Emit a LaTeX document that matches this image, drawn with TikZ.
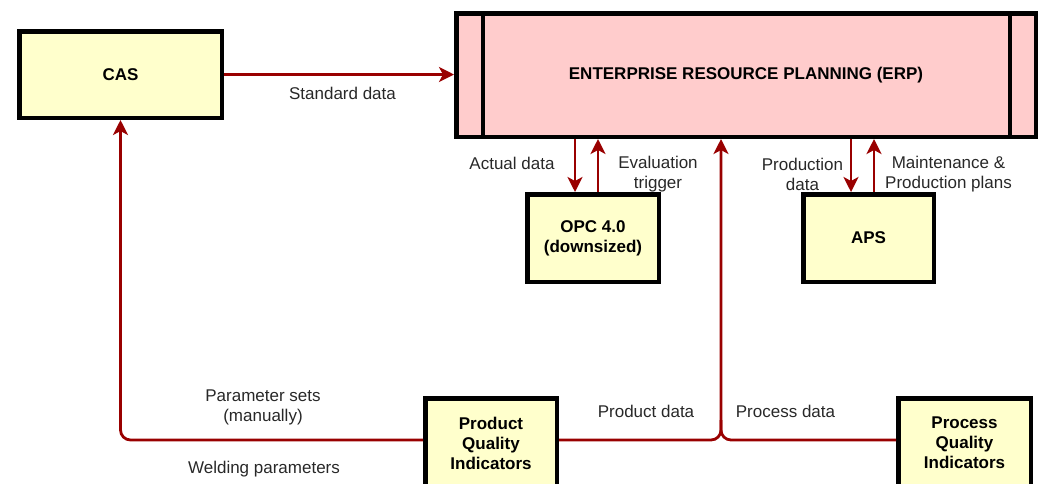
\documentclass[tikz,border=0pt]{standalone}
\usepackage{fontspec}
\setmainfont{Liberation Sans}
\usetikzlibrary{arrows.meta}
\definecolor{arrred}{RGB}{153,0,0}
\definecolor{boxyellow}{RGB}{255,255,204}
\definecolor{erppink}{RGB}{255,204,204}
\definecolor{labelgray}{RGB}{40,40,40}
\begin{document}
\begin{tikzpicture}[x=1pt,y=-1pt,
  box/.style={draw=black, line width=4.5pt, fill=boxyellow, font=\fontsize{17}{20}\selectfont\bfseries, align=center, inner sep=0pt},
  conn/.style={draw=arrred, line width=2.8pt},
  arr/.style={conn, -{Stealth[length=15pt,width=15pt,inset=4pt]}},
  lbl/.style={font=\fontsize{17}{20}\selectfont, text=labelgray, align=center, inner sep=0pt}]
\useasboundingbox (0,0) rectangle (1043,483);
\clip (0,0) rectangle (1043,483);
% boxes
\node[box, minimum width=202.5pt, minimum height=86.5pt] (cas) at (120.5,74.5) {CAS};
\node[box, fill=erppink, minimum width=579.5pt, minimum height=123.5pt] (erp) at (746,75) {ENTERPRISE RESOURCE PLANNING (ERP)};
\draw[line width=4.5pt] ([xshift=29pt]erp.north west) -- ([xshift=29pt]erp.south west);
\draw[line width=4.5pt] ([xshift=-28pt]erp.north east) -- ([xshift=-28pt]erp.south east);
\node[box, minimum width=131.5pt, minimum height=87.5pt] (opc) at (593,238) {OPC 4.0\\(downsized)};
\node[box, minimum width=130.5pt, minimum height=87.5pt] (aps) at (868.5,238) {APS};
\node[box, minimum width=131.5pt, minimum height=89.5pt] (pqi) at (491,443) {Product\\Quality\\Indicators};
\node[box, minimum width=132.5pt, minimum height=89.5pt] (prqi) at (964.5,443) {Process\\Quality\\Indicators};
\coordinate (j) at (721,440);
% connectors
\draw[arr] (cas.east) -- (cas.east -| erp.west);
\draw[arr] (erp.south -| 575,0) -- (opc.north -| 575,0);
\draw[arr] (opc.north -| 598,0) -- (erp.south -| 598,0);
\draw[arr] (erp.south -| 851,0) -- (aps.north -| 851,0);
\draw[arr] (aps.north -| 874,0) -- (erp.south -| 874,0);
\draw[arr, rounded corners=10pt] (j -| pqi.east) -- (j) -- (erp.south -| j);
\draw[conn, rounded corners=10pt] (j -| prqi.west) -- (j) -- ++(0,-20);
\draw[arr, rounded corners=10pt] (j -| pqi.west) -| (cas.south);
% labels
\node[lbl] (lstd) at (342.5,93) {Standard data};
\node[lbl] (lact) at (512,163) {Actual data};
\node[lbl] (leval) at (658,174) {Evaluation\\trigger};
\node[lbl] (lprod) at (802.5,174) {Production\\data};
\node[lbl] (lmaint) at (948.5,174) {Maintenance \&\\Production plans};
\node[lbl] (lparam) at (263,407) {Parameter sets\\(manually)};
\node[lbl] (lweld) at (264,469) {Welding parameters};
\node[lbl] (lpd) at (646,411) {Product data};
\node[lbl] (lprd) at (785.5,411) {Process data};
\end{tikzpicture}
\end{document}
